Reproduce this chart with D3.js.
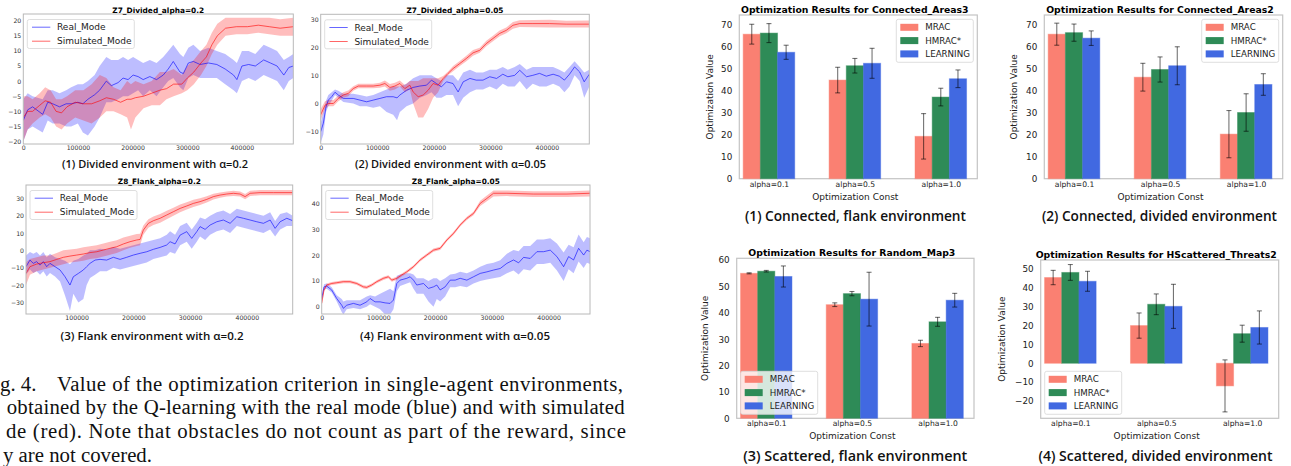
<!DOCTYPE html>
<html>
<head>
<meta charset="utf-8">
<script src="https://cdn.jsdelivr.net/npm/d3@7"></script>
<style>
  body { margin: 0; background: #fff; }
  svg { display: block; font-family: "DejaVu Sans", sans-serif; }
</style>
</head>
<body>
<svg id="fig" width="1291" height="466"></svg>
<script>
// ---------- line chart data (training curves) ----------
const xTicksZero = [0, 100000, 200000, 300000, 400000];
const xTicksNoZero = [100000, 200000, 300000, 400000];

const c1RealX = [0, 8000, 17000, 35500, 44700, 53900, 66200, 78400, 87600, 99800, 109000, 118200, 130500, 139700, 151900, 161100, 173400, 182500, 191700, 200900, 210100, 219300, 231500, 243800, 256000, 265200, 274400, 286700, 292800, 302000, 311200, 323400, 338700, 354100, 369400, 384700, 390800, 400000, 412300, 424500, 439800, 452100, 464300, 476600, 485800, 494000];
const c1RealY = [-13, -9.5, -8.5, -11, -7, -7.5, -8.5, -7.5, -7.5, -7, -7.5, -6, -4.5, -3, 0, -1.5, -0.5, 1, 0.5, 2, 1.5, 0.5, 1.5, 0.5, 2, 4, 6.5, 3, 2.5, 6, 6.5, 5.5, 6, 5.5, 4, 2, 0.5, 5, 5.5, 5, 7, 6, 5, 2, 4.5, 5];
const c1RealLo = [-20, -16, -15, -17, -13, -14, -14, -15, -15, -14, -17, -18, -15, -12, -7, -7, -6, -5, -5, -4, -3, -5, -3, -5, -2, 0, 1, -2, -3, 1, 2, 1, 1, 1, -1, -3, -4, 0, 1, 0, 2, 1, 0, -3, 0, 1];
const c1RealHi = [-6, -4, -5, -6, -3, -3, -4, -3, -2, -1, -1, 0, 2, 5, 8, 7, 7, 8, 7, 8, 7, 6, 7, 6, 8, 10, 12, 9, 8, 11, 12, 10, 11, 10, 9, 7, 6, 10, 10, 9, 12, 11, 10, 7, 8, 9];
const c1SimX = [0, 8000, 17000, 30000, 40000, 50000, 60000, 70000, 80000, 95000, 110000, 125000, 140000, 152000, 165000, 178000, 190000, 197000, 205000, 220000, 235000, 250000, 262000, 275000, 290000, 300000, 312000, 325000, 335000, 345000, 355000, 370000, 390000, 410000, 430000, 450000, 470000, 494000];
const c1SimY = [-12, -10, -10, -8, -6.5, -7, -10, -10.5, -8.5, -7, -7.5, -7.5, -6.5, -5.5, -6, -7, -6, -6, -5.5, -5, -4, -3, -2.5, -1, -1, 1, 3, 6, 8, 12, 15, 17.5, 18, 18, 18.5, 18, 17.5, 18];
const c1SimLo = [-20, -16, -14, -12, -11, -12, -15, -16, -14, -12, -13, -14, -12, -10, -10, -11, -12, -16, -12, -9, -8, -8, -6, -5, -4, -3, -1, 2, 5, 9, 12, 15, 15.5, 15.5, 16, 15.5, 15, 15];
const c1SimHi = [-5, -5, -6, -4, -2, -3, -6, -6, -5, -3, -3, -1, 2, 1, -2, -3, 0, -1, 0, -1, 0, 3, 3, 4, 2, 5, 7, 10, 12, 16, 19, 21, 21, 21, 21, 21, 20.5, 21];

const c2RealX = [0, 4700, 9400, 13500, 19400, 25300, 31200, 40000, 57600, 69400, 81200, 92900, 104700, 116500, 128200, 135000, 140000, 151800, 163500, 175300, 187100, 195900, 204700, 213500, 222400, 234000, 243000, 252000, 264000, 275000, 287000, 299000, 311000, 322000, 331000, 343000, 352000, 364000, 375000, 387000, 399000, 411000, 422000, 431000, 440000, 449000, 458000, 466000, 475000];
const c2RealY = [-10, -7, -1.2, 1.2, 2.4, 4, 3, 1.8, 1.8, 1.2, 0.6, 1.2, 1.8, 2.4, 2.4, 2, 3, 4.7, 5.7, 6.2, 6.5, 8.3, 7.1, 5.9, 7.7, 7.1, 4.1, 7.7, 8.9, 8.3, 8.3, 9.5, 8.9, 10.4, 9.5, 10, 11.8, 9.5, 10, 10.7, 9.7, 10.4, 9.7, 8.3, 10.4, 13, 11.2, 7.7, 10.4];
const c2RealLo = [-14, -11, -3, -1, 1, 3, 2, 0.5, 0, -1, -1, -1.5, -1, -3, -4, -6, -3, -1, 0, 2, 3, 4, 2, 2, 3, 3, -1, 2, 4, 5, 5, 6, 5, 7, 6, 6, 8, 5, 7, 6, 6, 7, 6, 4, 6, 10, 8, 2, 6];
const c2RealHi = [-7, -3, 1, 3, 4, 5, 4.5, 3.5, 3.5, 3, 2.5, 3, 4, 5, 6, 6, 6, 7, 9, 10, 10, 10, 9, 8, 10, 10, 8, 11, 12, 11, 11, 12, 12, 13, 12, 13, 14, 12, 13, 13, 13, 13, 12, 11, 13, 15, 13, 11, 12];
const c2SimX = [0, 7600, 13500, 22400, 31200, 40000, 48800, 57600, 66500, 81200, 92900, 104700, 113500, 122400, 131200, 140000, 148800, 157600, 163500, 172400, 181200, 190000, 198800, 207600, 216500, 225300, 234100, 245900, 257600, 269400, 281200, 292900, 304700, 316500, 328200, 340000, 351800, 375300, 404700, 434100, 475000];
const c2SimY = [-4, -0.6, 0, 0, 1.8, 3, 3.6, 5.3, 6.2, 6.2, 6.2, 6.5, 7.1, 5.7, 6.2, 7.1, 5.3, 6.5, 4.1, 2.4, 3, 4.7, 7.1, 6.5, 8.9, 10.7, 12.4, 14.2, 16, 18, 18.9, 21.3, 23.1, 24.9, 26, 27.8, 28.4, 28.4, 28.4, 28.2, 28.2];
const c2SimLo = [-6, -2, -1, -1, 0.8, 2, 2.6, 4.5, 5.4, 5.4, 5.4, 5.6, 6, 4.5, 5, 6, 4, 5, 0, -5, -5, -2, 2, 4, 8, 10, 11.5, 13.3, 15, 17, 18, 20.3, 22.1, 23.9, 25, 26.6, 27.2, 27.1, 27, 27, 27];
const c2SimHi = [-2, 0.8, 1.2, 1.2, 2.8, 4, 4.6, 6.1, 7, 7, 7, 7.4, 8.2, 6.9, 7.4, 8.2, 6.6, 8, 8, 8, 9, 9, 9, 9, 9.8, 11.4, 13.3, 15.1, 17, 19, 19.8, 22.3, 24.1, 25.9, 27, 29, 29.6, 29.7, 29.8, 29.4, 29.5];

const c3RealX = [10600, 17600, 23500, 29400, 35300, 41200, 47100, 52900, 61800, 70600, 79400, 88200, 94100, 102900, 111800, 117600, 123500, 132400, 141200, 152900, 164700, 176500, 188200, 200000, 211800, 223500, 235300, 247100, 258800, 264700, 273500, 282400, 294100, 302900, 311800, 317600, 326500, 335300, 347100, 358800, 370600, 382400, 394100, 405900, 417600, 429400, 441200, 450000, 458800, 470600, 481000];
const c3RealY = [-9.4, -5.6, -7.5, -6.5, -8.5, -6.5, -9.4, -7.5, -9.4, -11.3, -15.2, -20, -15.2, -13.3, -11.3, -9.4, -7.5, -5.6, -5.2, -5.6, -4, -5.2, -4, -2.7, -1.7, -0.8, 0.6, 1.7, 3.1, 5, 3.7, 8.8, 10.8, 6.9, 10.8, 13.7, 12.1, 14.6, 16.5, 17.5, 15.6, 19.4, 18.5, 17.5, 16.5, 15.6, 17.5, 12.7, 16.5, 18.5, 17.1];
const c3RealLo = [-14, -11, -13, -12, -14, -12, -15, -13, -15, -18, -26, -35, -25, -30, -28, -20, -16, -14, -12, -12, -10, -11, -10, -9, -8, -7, -5, -4, -3, -1, -2, 3, 5, 1, 5, 8, 6, 9, 11, 12, 10, 14, 13, 12, 11, 10, 12, 8, 12, 14, 14];
const c3RealHi = [-3, -1, -2, -1, -3, -1, -4, -2, -4, -5, -6, -8, -6, -5, -3, -2, 0, 0, 1, 0.5, 2, 1, 2, 3, 4, 5, 6, 7, 9, 11, 9, 14, 16, 12, 16, 19, 18, 20, 22, 23, 21, 24, 23, 22, 21, 20, 22, 17, 21, 22, 20];
const c3SimX = [10600, 17600, 29400, 41200, 52900, 64700, 76500, 88200, 100000, 111800, 123500, 135300, 147100, 158800, 170600, 182400, 194100, 205900, 211800, 217600, 226500, 235300, 247100, 258800, 270600, 282400, 294100, 305900, 317600, 329400, 341200, 352900, 364700, 376500, 388200, 397100, 405900, 423500, 447100, 481000];
const c3SimY = [-13.3, -9.4, -7.9, -7.1, -6.5, -5.2, -4, -3.3, -2.7, -2.1, -1.3, -0.8, 0.2, 1.2, 2.1, 3.7, 5, 6, 6.3, 11.7, 15.6, 17.1, 18.5, 20.4, 22.3, 24.2, 25.6, 27.1, 28.1, 29.4, 31, 31.9, 32.5, 32.9, 32.5, 31, 32.9, 33.3, 33.3, 33.3];
const c3SimLo = [-20, -14, -12, -11, -10, -9, -8, -7, -6.5, -6, -5, -4.5, -3.5, -2.5, -1.5, 0, 1.5, 2.5, 3, 9, 13, 14.6, 16, 18, 20, 22, 23.5, 25, 26.2, 27.6, 29.4, 30.4, 31, 31.4, 31, 29.5, 31.4, 31.8, 31.8, 31.8];
const c3SimHi = [-7, -5, -4, -3, -3, -1.5, 0, 0.5, 1, 1.8, 2.4, 3, 4, 5, 5.8, 7.4, 8.5, 9.5, 9.6, 14.4, 18, 19.6, 21, 22.8, 24.6, 26.4, 27.7, 29.2, 30, 31.2, 32.6, 33.4, 34, 34.4, 34, 32.5, 34.4, 34.8, 34.8, 34.8];

const c4RealX = [0, 4100, 8800, 17600, 26500, 35300, 38200, 44100, 55900, 67600, 79400, 85300, 94100, 102900, 111800, 120600, 126500, 132400, 138200, 150000, 155900, 161800, 167600, 179400, 188200, 197100, 202900, 208800, 217600, 226500, 235300, 244100, 255900, 267600, 279400, 291200, 302900, 314700, 326500, 338200, 347100, 355900, 367600, 379400, 391200, 402900, 414700, 426500, 435300, 444100, 452900, 461800, 467600, 473000];
const c4RealY = [3.2, 7.7, 8, 6.5, 3.2, 0.6, -0.6, 0.6, 1.3, 0.6, 1.9, 3.2, 1.9, 1.9, 1.5, 1.3, 2.6, 9, 10.3, 11, 11.6, 10.3, 8.4, 9, 7.1, 7.7, 8.4, 6.5, 7.7, 10.3, 10.3, 11, 10.3, 11.6, 12.9, 13.5, 14.2, 14.8, 16.8, 18.1, 17, 19.1, 18.7, 21.3, 21.3, 21.9, 19.4, 15.5, 19.4, 18.1, 22.6, 20, 21.9, 21.3];
const c4RealLo = [2, 6.5, 7, 5.5, 2, -2, -3, -1, -0.5, -1, 0, 1, 0, -1, -3, -3, -1, 6, 8, 9, 9.5, 7, 5, 5, 2, 0, 3, 2, 4, 7.5, 7.5, 8, 7.5, 9, 10, 10.5, 11, 11.5, 13, 14, 12.5, 14.5, 14, 16.5, 16.5, 17, 14, 10, 14.5, 13, 17.5, 15, 17, 16.5];
const c4RealHi = [4.2, 8.7, 9, 7.5, 4.5, 3, 2, 2.5, 2.5, 2.5, 4, 4.5, 4, 5, 6, 7, 6, 12, 12.5, 13, 13, 12.5, 11, 11, 10, 11, 11, 10, 11, 12.5, 12.8, 13.5, 13, 14, 15.5, 16.5, 17, 18, 20.5, 22, 21.5, 23.5, 23.5, 26, 26, 26.5, 24.5, 21, 24, 23, 28, 25, 27, 26.5];
const c4SimX = [0, 4100, 8800, 17600, 26500, 38200, 50000, 61800, 73500, 79400, 88200, 97100, 108800, 117600, 123500, 132400, 141200, 150000, 161800, 173500, 185300, 197100, 208800, 220600, 232400, 244100, 255900, 267600, 279400, 291200, 302900, 326500, 373500, 432400, 473000];
const c4SimY = [1.3, 6.5, 8.4, 9, 9.3, 9.7, 9.7, 9, 7.7, 7.5, 8.4, 9.7, 11, 11.6, 10.3, 11, 12.3, 13.5, 15.5, 18.1, 20, 21.9, 22.6, 25.8, 28.4, 31.6, 34.2, 36.1, 40, 41.9, 43.9, 43.9, 43.6, 43.6, 43.9];
const c4SimLo = [0.7, 5.9, 7.8, 8.4, 8.7, 9.1, 9.1, 8.4, 7.1, 6.9, 7.8, 9.1, 10.4, 11, 9.7, 10.4, 11.7, 12.9, 14.9, 17.5, 19.4, 21.3, 22, 25.2, 27.8, 31, 33.6, 35.4, 39, 40.8, 42.7, 42.8, 42.5, 42.5, 42.7];
const c4SimHi = [1.9, 7.1, 9, 9.6, 9.9, 10.3, 10.3, 9.6, 8.3, 8.1, 9, 10.3, 11.6, 12.2, 10.9, 11.6, 12.9, 14.1, 16.1, 18.7, 20.6, 22.5, 23.2, 26.4, 29, 32.2, 34.8, 36.8, 41, 43, 45, 45, 44.7, 44.7, 45];

// ---------- bar chart data ----------
const groups = ["alpha=0.1", "alpha=0.5", "alpha=1.0"];
const methods = ["MRAC", "HMRAC*", "LEARNING"];
const methodColors = ["#fa8072", "#2e8b57", "#4169e1"];

// rows = alpha groups, cols = methods
const areas3Mean = [[65.5, 66, 57.3], [44.7, 51.2, 52.3], [19.2, 37, 45.3]];
const areas3Err = [[4.5, 4.3, 3.2], [5.8, 3.3, 6.8], [10.3, 4, 4]];
const areas2Mean = [[65.5, 66.2, 63.7], [46, 49.5, 51.2], [20.2, 30, 42.7]];
const areas2Err = [[5, 3.9, 3.3], [6.3, 5.7, 8.6], [10.7, 8.5, 4.9]];
const map3Mean = [[55, 55.8, 53.8], [43.1, 47.3, 45.2], [28.4, 36.6, 44.8]];
const map3Err = [[0.2, 0.3, 4], [0.7, 0.8, 10.2], [1.2, 1.7, 2.6]];
const threats2Mean = [[45.5, 48.2, 43.5], [20, 31.3, 30.2], [-12, 15.7, 19]];
const threats2Err = [[3.8, 4.2, 5.3], [6.7, 5.5, 11.7], [13.8, 4.5, 8.8]];

// visible part of the paper's figure caption (column is cropped on the left)
const captionLines = [
  "g. 4.",
  "Value of the optimization criterion in single-agent environments,",
  "obtained by the Q-learning with the real mode (blue) and with simulated",
  "de (red). Note that obstacles do not count as part of the reward, since",
  "y are not covered."
];

const svg = d3.select("#fig");
const fmtInt = d3.format("d");

function series(xs, ys, lo, hi) {
  return xs.map((v, i) => ({ x: v, y: ys[i], lo: lo[i], hi: hi[i] }));
}

function caption(g, cfg, size) {
  g.append("text").attr("x", cfg.capX - cfg.capW / 2).attr("y", cfg.capY)
    .attr("font-family", "Open Sans").attr("font-weight", 600)
    .attr("font-size", size).attr("fill", "#111")
    .attr("textLength", cfg.capW).attr("lengthAdjust", "spacingAndGlyphs")
    .text(cfg.caption);
}

function lineChart(cfg) {
  const x = d3.scaleLinear().domain(cfg.xDomain).range(cfg.xRange);
  const y = d3.scaleLinear().domain(cfg.yDomain).range(cfg.yRange);
  const g = svg.append("g");
  const left = cfg.xRange[0], right = cfg.xRange[1];
  const top = cfg.yRange[1], bottom = cfg.yRange[0];

  svg.append("clipPath").attr("id", "clip" + cfg.id)
    .append("rect").attr("x", left).attr("y", top)
    .attr("width", right - left).attr("height", bottom - top);

  const plot = g.append("g").attr("clip-path", `url(#clip${cfg.id})`);
  const lines = [
    { data: cfg.real, color: "#0000ff" },
    { data: cfg.sim, color: "#ff0000" },
  ];
  lines.forEach((s) => {
    plot.append("path").datum(s.data)
      .attr("fill", s.color).attr("fill-opacity", 0.26)
      .attr("d", d3.area().x((d) => x(d.x)).y0((d) => y(d.lo)).y1((d) => y(d.hi)));
  });
  lines.forEach((s) => {
    plot.append("path").datum(s.data)
      .attr("fill", "none").attr("stroke", s.color)
      .attr("stroke-opacity", 0.6).attr("stroke-width", 1)
      .attr("d", d3.line().x((d) => x(d.x)).y((d) => y(d.y)));
  });

  g.append("rect").attr("x", left).attr("y", top)
    .attr("width", right - left).attr("height", bottom - top)
    .attr("fill", "none").attr("stroke", "#b8b8b8").attr("stroke-width", 1);

  const xa = g.append("g").attr("transform", `translate(0,${bottom})`)
    .call(d3.axisBottom(x).tickValues(cfg.xTicks).tickFormat(fmtInt).tickSize(0).tickPadding(1.5));
  const ya = g.append("g").attr("transform", `translate(${left},0)`)
    .call(d3.axisLeft(y).tickValues(cfg.yTicks).tickFormat(fmtInt).tickSize(0).tickPadding(2));
  [xa, ya].forEach((a) => {
    a.select(".domain").remove();
    a.selectAll("text").attr("font-size", 6.2).attr("fill", "#333")
      .attr("font-family", "DejaVu Sans");
  });

  g.append("text").attr("x", (left + right) / 2).attr("y", top - 1.5)
    .attr("text-anchor", "middle").attr("font-size", 7.4).attr("font-weight", "bold")
    .text(cfg.title);

  // legend
  const lx = left + 4, ly = top + 5.5;
  g.append("rect").attr("x", lx).attr("y", ly).attr("width", 107).attr("height", 29)
    .attr("rx", 2).attr("fill", "#fff").attr("fill-opacity", 0.8)
    .attr("stroke", "#d6d6d6").attr("stroke-width", 0.8);
  ["Real_Mode", "Simulated_Mode"].forEach((name, i) => {
    const yy = ly + 7.7 + i * 14;
    g.append("line").attr("x1", lx + 4.7).attr("x2", lx + 23)
      .attr("y1", yy).attr("y2", yy)
      .attr("stroke", lines[i].color).attr("stroke-opacity", 0.6).attr("stroke-width", 1);
    g.append("text").attr("x", lx + 29.7).attr("y", yy).attr("dy", "0.35em")
      .attr("font-size", 9).attr("fill", "#222").text(name);
  });

  caption(g, cfg, 11.4);
}

function barChart(cfg) {
  const x = d3.scaleLinear().domain([-0.345, 2.425]).range(cfg.xRange);
  const y = d3.scaleLinear().domain(cfg.yDomain).range(cfg.yRange);
  const g = svg.append("g");
  const left = cfg.xRange[0], right = cfg.xRange[1];
  const top = cfg.yRange[1], bottom = cfg.yRange[0];
  const bw = 0.2;

  g.append("rect").attr("x", left).attr("y", top)
    .attr("width", right - left).attr("height", bottom - top)
    .attr("fill", "none").attr("stroke", "#c4c4c4").attr("stroke-width", 1.2);

  const cells = [];
  cfg.mean.forEach((row, gi) => row.forEach((v, mi) => {
    cells.push({ gi, mi, v, e: cfg.err[gi][mi] });
  }));

  g.selectAll("rect.bar").data(cells).enter().append("rect")
    .attr("class", "bar")
    .attr("x", (d) => x(d.gi + (d.mi - 1) * bw - bw / 2))
    .attr("width", (d) => x(bw) - x(0))
    .attr("y", (d) => y(Math.max(0, d.v)))
    .attr("height", (d) => Math.abs(y(d.v) - y(0)))
    .attr("fill", (d) => methodColors[d.mi])
    .attr("stroke", (d) => methodColors[d.mi]).attr("stroke-opacity", 0.45)
    .attr("stroke-width", 1);

  const eb = g.selectAll("g.err").data(cells).enter().append("g")
    .attr("stroke", "#000").attr("stroke-opacity", 0.55).attr("stroke-width", 1.1);
  eb.append("line")
    .attr("x1", (d) => x(d.gi + (d.mi - 1) * bw)).attr("x2", (d) => x(d.gi + (d.mi - 1) * bw))
    .attr("y1", (d) => y(d.v - d.e)).attr("y2", (d) => y(d.v + d.e));
  [-1, 1].forEach((s) => {
    eb.append("line")
      .attr("x1", (d) => x(d.gi + (d.mi - 1) * bw) - 2.5).attr("x2", (d) => x(d.gi + (d.mi - 1) * bw) + 2.5)
      .attr("y1", (d) => y(d.v + s * d.e)).attr("y2", (d) => y(d.v + s * d.e));
  });

  const xa = g.append("g").attr("transform", `translate(0,${bottom})`)
    .call(d3.axisBottom(x).tickValues([0, 1, 2]).tickFormat((d) => groups[d]).tickSize(0).tickPadding(2.5));
  const ya = g.append("g").attr("transform", `translate(${left},0)`)
    .call(d3.axisLeft(y).tickValues(cfg.yTicks).tickFormat(fmtInt).tickSize(0).tickPadding(7));
  xa.select(".domain").remove();
  ya.select(".domain").remove();
  xa.selectAll("text").attr("font-size", 7.6).attr("fill", "#222").attr("font-family", "DejaVu Sans");
  ya.selectAll("text").attr("font-size", 8.8).attr("fill", "#222").attr("font-family", "DejaVu Sans");

  g.append("text").attr("x", (left + right) / 2 - 3.5).attr("y", top - 2)
    .attr("text-anchor", "middle").attr("font-size", 9.3).attr("font-weight", "bold")
    .text(cfg.title);
  g.append("text").attr("x", (left + right) / 2 - 3).attr("y", bottom + 21)
    .attr("text-anchor", "middle").attr("font-size", 9).attr("fill", "#222")
    .text("Optimization Const");
  g.append("text")
    .attr("transform", `translate(${left - cfg.yLabelOff},${(top + bottom) / 2}) rotate(-90)`)
    .attr("text-anchor", "middle").attr("font-size", 9).attr("fill", "#222")
    .text("Optimization Value");

  // legend
  const lx = cfg.legendX, ly = cfg.legendY;
  g.append("rect").attr("x", lx).attr("y", ly).attr("width", 77).attr("height", 43)
    .attr("rx", 2).attr("fill", "#fff").attr("fill-opacity", 0.8)
    .attr("stroke", "#d6d6d6").attr("stroke-width", 0.8);
  methods.forEach((m, i) => {
    const yy = ly + 8 + i * 13.3;
    g.append("rect").attr("x", lx + 4).attr("y", yy - 3.5).attr("width", 18).attr("height", 7)
      .attr("fill", methodColors[i]);
    g.append("text").attr("x", lx + 29).attr("y", yy).attr("dy", "0.35em")
      .attr("font-size", 8.7).attr("fill", "#222").text(m);
  });

  caption(g, cfg, 13.4);
}

lineChart({
  id: 1, title: "Z7_Divided_alpha=0.2", caption: "(1) Divided environment with α=0.2",
  xRange: [23.3, 293.3], yRange: [144, 14], xDomain: [0, 494000], yDomain: [-20.8, 22.2],
  xTicks: xTicksZero, yTicks: [-20, -15, -10, -5, 0, 5, 10, 15, 20],
  real: series(c1RealX, c1RealY, c1RealLo, c1RealHi), sim: series(c1SimX, c1SimY, c1SimLo, c1SimHi),
  capX: 155, capY: 168, capW: 186,
});
lineChart({
  id: 2, title: "Z7_Divided_alpha=0.05", caption: "(2) Divided environment with α=0.05",
  xRange: [320.7, 589.3], yRange: [144, 14.3], xDomain: [0, 475000], yDomain: [-14.4, 31.7],
  xTicks: xTicksZero, yTicks: [-10, 0, 10, 20, 30],
  real: series(c2RealX, c2RealY, c2RealLo, c2RealHi), sim: series(c2SimX, c2SimY, c2SimLo, c2SimHi),
  capX: 450.5, capY: 168, capW: 191,
});
lineChart({
  id: 3, title: "Z8_Flank_alpha=0.2", caption: "(3) Flank environment with α=0.2",
  xRange: [26, 292.7], yRange: [314, 185], xDomain: [10600, 481000], yDomain: [-36.7, 37.7],
  xTicks: xTicksNoZero, yTicks: [-30, -20, -10, 0, 10, 20, 30],
  real: series(c3RealX, c3RealY, c3RealLo, c3RealHi), sim: series(c3SimX, c3SimY, c3SimLo, c3SimHi),
  capX: 152, capY: 339.5, capW: 183,
});
lineChart({
  id: 4, title: "Z8_Flank_alpha=0.05", caption: "(4) Flank environment with α=0.05",
  xRange: [321.7, 590], yRange: [314, 185], xDomain: [0, 473000], yDomain: [-2.8, 47.1],
  xTicks: xTicksZero, yTicks: [0, 10, 20, 30, 40],
  real: series(c4RealX, c4RealY, c4RealLo, c4RealHi), sim: series(c4SimX, c4SimY, c4SimLo, c4SimHi),
  capX: 455, capY: 339.5, capW: 190,
});

barChart({
  title: "Optimization Results for Connected_Areas3", caption: "(1) Connected, flank environment",
  xRange: [739.3, 977.3], yRange: [178.7, 15], yDomain: [0, 74.2], yTicks: d3.range(0, 71, 10),
  mean: areas3Mean, err: areas3Err, legendX: 896.3, legendY: 19.3, yLabelOff: 26.6,
  capX: 855.5, capY: 221, capW: 221,
});
barChart({
  title: "Optimization Results for Connected_Areas2", caption: "(2) Connected, divided environment",
  xRange: [1044.3, 1282.7], yRange: [178.7, 15], yDomain: [0, 74.2], yTicks: d3.range(0, 71, 10),
  mean: areas2Mean, err: areas2Err, legendX: 1201.7, legendY: 19.3, yLabelOff: 27.6,
  capX: 1159.5, capY: 221, capW: 235,
});
barChart({
  title: "Optimization Results for Random_Map3", caption: "(3) Scattered, flank environment",
  xRange: [736.7, 974], yRange: [418.3, 258.3], yDomain: [0, 60.7], yTicks: d3.range(0, 61, 10),
  mean: map3Mean, err: map3Err, legendX: 740.7, legendY: 371.3, yLabelOff: 28.4,
  capX: 855.3, capY: 461, capW: 224,
});
barChart({
  title: "Optimization Results for HScattered_Threats2", caption: "(4) Scattered, divided environment",
  xRange: [1040.7, 1278.7], yRange: [418.3, 260], yDomain: [-29.2, 54.8], yTicks: d3.range(-20, 51, 10),
  mean: threats2Mean, err: threats2Err, legendX: 1044.7, legendY: 371.3, yLabelOff: 35.7,
  capX: 1155.5, capY: 461, capW: 234,
});

// figure caption text of the paper
const cap = svg.append("g").attr("font-family", "Liberation Serif").attr("font-size", 20.8).attr("fill", "#111");
cap.append("text").attr("x", 0).attr("y", 390.5).text(captionLines[0]);
cap.append("text").attr("x", 57).attr("y", 390.5)
  .attr("textLength", 566).attr("lengthAdjust", "spacing").text(captionLines[1]);
cap.append("text").attr("x", 6.7).attr("y", 414.2)
  .attr("textLength", 618).attr("lengthAdjust", "spacing").text(captionLines[2]);
cap.append("text").attr("x", 6).attr("y", 437.9)
  .attr("textLength", 620).attr("lengthAdjust", "spacing").text(captionLines[3]);
cap.append("text").attr("x", 3).attr("y", 461.6).text(captionLines[4]);
</script>
</body>
</html>
